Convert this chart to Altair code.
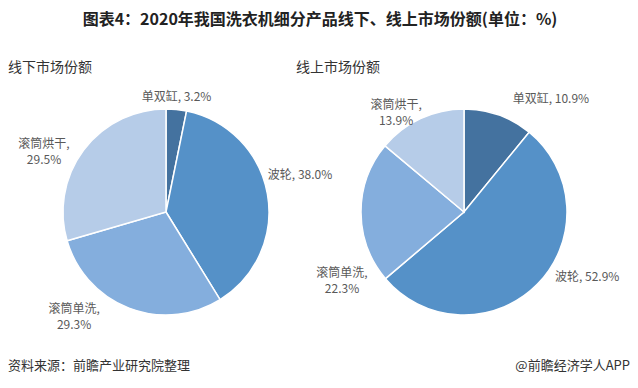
import altair as alt
import pandas as pd

# ---------------- data ----------------
categories = ["单双缸", "波轮", "滚筒单洗", "滚筒烘干"]
offline_share = [3.2, 38.0, 29.3, 29.5]
online_share = [10.9, 52.9, 22.3, 13.9]
panel_titles = ["线下市场份额", "线上市场份额"]
label_separators = [", ", ", ", ",\n", ",\n"]
chart_title = "图表4：2020年我国洗衣机细分产品线下、线上市场份额(单位：%)"
source_note = "资料来源：前瞻产业研究院整理"
credit_note = "@前瞻经济学人APP"

# ---------------- styles ----------------
colors = ["#44729F", "#5591C8", "#84AEDD", "#B6CCE8"]
FONT = "Noto Sans CJK SC"
W, H = 622, 372
centers = [(158, 204), (456, 204)]
PIE_R = 103
LABEL_R = 125
# per-label nudges (dx, dy) relative to the polar anchor
nudges = {
    "线下市场份额": {"单双缸": (-2, 9), "波轮": (11, -15), "滚筒单洗": (-47, -20), "滚筒烘干": (-22, 7)},
    "线上市场份额": {"单双缸": (45, 5), "波轮": (34, -23), "滚筒单洗": (3, 61), "滚筒烘干": (-15, 6)},
}
subtitle_x = [0, 288]

rows = []
for panel, shares in zip(panel_titles, [offline_share, online_share]):
    for i, (c, v) in enumerate(zip(categories, shares)):
        rows.append({
            "panel": panel, "category": c, "value": v, "order": i,
            "label": f"{c}{label_separators[i]}{v:.1f}%",
        })
df = pd.DataFrame(rows)

theta_scale = alt.Scale(domain=[0, 100])
color_scale = alt.Scale(domain=categories, range=colors)

layers = []
for panel, (cx, cy) in zip(panel_titles, centers):
    base = alt.Chart(df).transform_filter(alt.datum.panel == panel)
    arc = base.mark_arc(outerRadius=PIE_R, stroke="white", strokeWidth=1.5).encode(
        theta=alt.Theta("value:Q", stack=True, scale=theta_scale),
        color=alt.Color("category:N", scale=color_scale, legend=None),
        order=alt.Order("order:Q"),
        x=alt.value(cx),
        y=alt.value(cy),
    )
    layers.append(arc)
    lab_base = base.transform_window(
        cum="sum(value)", sort=[alt.SortField("order")], frame=[None, 0]
    ).transform_calculate(mid="datum.cum - datum.value / 2")
    for c in categories:
        dx, dy = nudges[panel][c]
        t = lab_base.transform_filter(alt.datum.category == c).mark_text(
            font=FONT, fontSize=12, color="#595959", align="center", baseline="middle",
            lineBreak="\n", lineHeight=16, dx=dx, dy=dy,
        ).encode(
            theta=alt.Theta("mid:Q", scale=theta_scale),
            radius=alt.value(LABEL_R),
            text="label:N",
            x=alt.value(cx),
            y=alt.value(cy),
        )
        layers.append(t)

one = pd.DataFrame({"k": [0]})

title = alt.Chart(one).mark_text(
    text=chart_title, font=FONT, fontSize=16, fontWeight="bold", color="#222222",
    align="center", baseline="middle",
).encode(x=alt.value(312), y=alt.value(12))
layers.append(title)

for p, sx in zip(panel_titles, subtitle_x):
    layers.append(alt.Chart(one).mark_text(
        text=p, font=FONT, fontSize=14, color="#333333", align="left", baseline="middle",
    ).encode(x=alt.value(sx), y=alt.value(60)))

layers.append(alt.Chart(one).mark_text(
    text=source_note, font=FONT, fontSize=13, color="#333333", align="left", baseline="middle",
).encode(x=alt.value(0), y=alt.value(358)))
layers.append(alt.Chart(one).mark_text(
    text=credit_note, font=FONT, fontSize=13, color="#333333", align="right", baseline="middle",
).encode(x=alt.value(W), y=alt.value(358)))

chart = alt.layer(*layers).properties(
    width=W, height=H, padding=0,
    autosize=alt.AutoSizeParams(type="none"),
    background="white",
).configure_view(stroke=None)

chart.save("out.html", embed_options={"renderer": "svg", "actions": False})
